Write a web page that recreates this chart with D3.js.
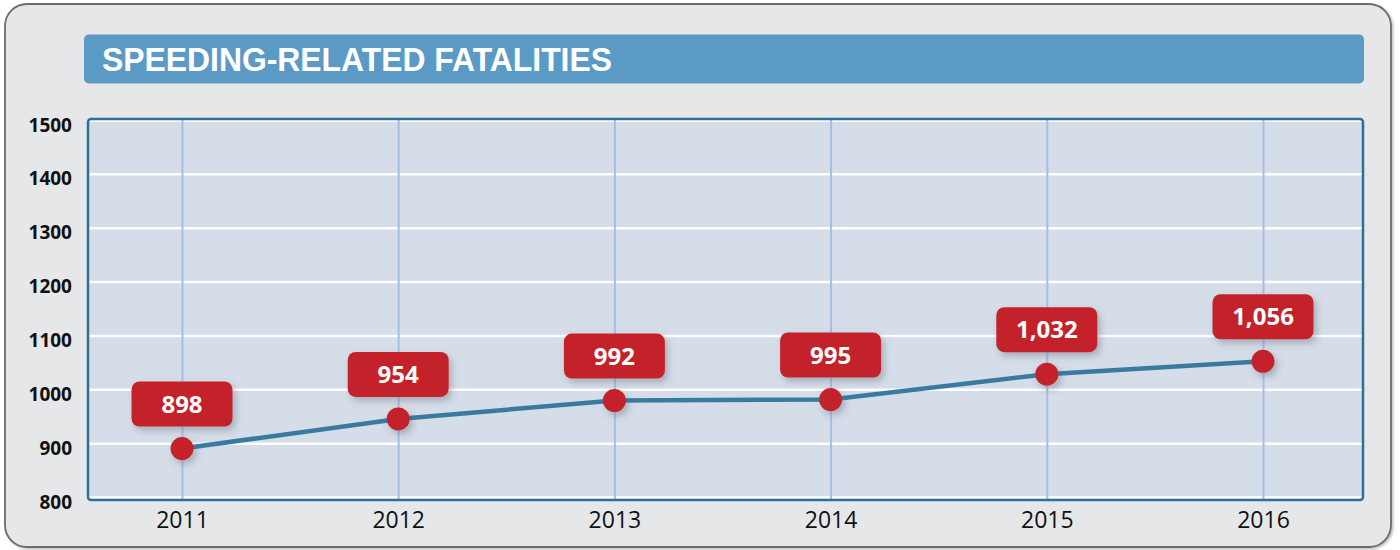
<!DOCTYPE html>
<html>
<head>
<meta charset="utf-8">
<script src="https://cdn.jsdelivr.net/npm/d3@7"></script>
<style>
  html, body { margin: 0; padding: 0; background: #ffffff; }
  svg { display: block; }
</style>
</head>
<body>
<svg id="chart" width="1400" height="550"></svg>
<script>
// ---- data ----
const title = "SPEEDING-RELATED FATALITIES";
const years = ["2011", "2012", "2013", "2014", "2015", "2016"];
const plottedValues = [890, 945, 979, 981, 1028, 1052];
const labelValues = [898, 954, 992, 995, 1032, 1056];
const yTicks = [800, 900, 1000, 1100, 1200, 1300, 1400, 1500];

// ---- layout ----
const plot = { left: 88, right: 1363, top: 120, bottom: 497 };

const svg = d3.select("#chart");
const defs = svg.append("defs");

const shadow = defs.append("filter").attr("id", "shadow")
  .attr("x", "-30%").attr("y", "-30%").attr("width", "170%").attr("height", "170%");
shadow.append("feDropShadow").attr("dx", 3).attr("dy", 4).attr("stdDeviation", 3.5)
  .attr("flood-color", "#4a5568").attr("flood-opacity", 0.35);

const panelShadow = defs.append("filter").attr("id", "panelShadow")
  .attr("x", "-5%").attr("y", "-5%").attr("width", "110%").attr("height", "110%");
panelShadow.append("feDropShadow").attr("dx", 1.5).attr("dy", 1.5).attr("stdDeviation", 1)
  .attr("flood-color", "#000").attr("flood-opacity", 0.25);

// outer panel
svg.append("rect")
  .attr("x", 5).attr("y", 4).attr("width", 1386).attr("height", 543)
  .attr("rx", 22).attr("ry", 22)
  .attr("fill", "#e6e7e9").attr("stroke", "#6b6c6e").attr("stroke-width", 1.8)
  .attr("filter", "url(#panelShadow)");

// title bar
svg.append("rect")
  .attr("x", 84).attr("y", 34.5).attr("width", 1280).attr("height", 49)
  .attr("rx", 5).attr("ry", 5)
  .attr("fill", "#5b9ac5");
svg.append("text")
  .attr("x", 102).attr("y", 71)
  .attr("font-family", "'Liberation Sans', Arial, sans-serif")
  .attr("font-weight", "bold")
  .attr("font-size", 33)
  .attr("fill", "#ffffff")
  .attr("textLength", 510)
  .attr("lengthAdjust", "spacingAndGlyphs")
  .text(title);

// scales
const x = d3.scalePoint().domain(years).range([182, 1263]);
const y = d3.scaleLinear().domain([800, 1500]).range([plot.bottom, plot.top]);

// plot background
svg.append("rect")
  .attr("x", plot.left).attr("y", plot.top - 1)
  .attr("width", plot.right - plot.left).attr("height", plot.bottom - plot.top + 4)
  .attr("rx", 3).attr("ry", 3)
  .attr("fill", "#d5dde8");

// horizontal gridlines (white)
const yGrid = svg.append("g")
  .attr("transform", `translate(${plot.left},0)`)
  .call(d3.axisLeft(y).tickValues(yTicks).tickSize(-(plot.right - plot.left)).tickFormat(""));
yGrid.select(".domain").remove();
yGrid.selectAll(".tick line").attr("stroke", "#ffffff").attr("stroke-width", 2.5);

// vertical gridlines (light blue)
const xGrid = svg.append("g")
  .attr("transform", `translate(0,${plot.bottom + 2})`)
  .call(d3.axisBottom(x).tickSize(-(plot.bottom + 2 - plot.top + 1)).tickFormat(""));
xGrid.select(".domain").remove();
xGrid.selectAll(".tick line").attr("stroke", "#a6bee8").attr("stroke-width", 2);

// plot border
svg.append("rect")
  .attr("x", plot.left).attr("y", plot.top - 1)
  .attr("width", plot.right - plot.left).attr("height", plot.bottom - plot.top + 4)
  .attr("rx", 3).attr("ry", 3)
  .attr("fill", "none").attr("stroke", "#2f6f98").attr("stroke-width", 2.5);

// y axis labels
const yAxis = svg.append("g")
  .attr("transform", `translate(${plot.left - 16},5)`)
  .call(d3.axisLeft(y).tickValues(yTicks).tickSize(0).tickPadding(0).tickFormat(d3.format("d")));
yAxis.select(".domain").remove();
yAxis.selectAll("text")
  .attr("font-family", "'Open Sans', sans-serif")
  .attr("font-weight", "bold")
  .attr("font-size", 19)
  .attr("fill", "#111111");

// x axis labels
const xAxis = svg.append("g")
  .attr("transform", `translate(0,${plot.bottom + 15})`)
  .call(d3.axisBottom(x).tickSize(0).tickPadding(0));
xAxis.select(".domain").remove();
xAxis.selectAll("text")
  .attr("font-family", "'Open Sans', sans-serif")
  .attr("font-size", 23)
  .attr("fill", "#111111");

// data
const data = years.map((yr, i) => ({ year: yr, v: plottedValues[i], label: labelValues[i] }));

// line
svg.append("path")
  .datum(data)
  .attr("fill", "none")
  .attr("stroke", "#3b7aa0")
  .attr("stroke-width", 4.5)
  .attr("stroke-linejoin", "round")
  .attr("d", d3.line().x(d => x(d.year)).y(d => y(d.v)));

// points
svg.append("g").selectAll("circle")
  .data(data).join("circle")
  .attr("cx", d => x(d.year))
  .attr("cy", d => y(d.v))
  .attr("r", 11.5)
  .attr("fill", "#c42329")
  .attr("filter", "url(#shadow)");

// value callouts
const fmt = d3.format(",");
const boxW = 101, boxH = 45, boxGap = 67;
const callouts = svg.append("g").selectAll("g")
  .data(data).join("g")
  .attr("transform", d => `translate(${x(d.year)},${y(d.v) - boxGap})`);
callouts.append("rect")
  .attr("x", -boxW / 2).attr("y", 0)
  .attr("width", boxW).attr("height", boxH)
  .attr("rx", 8).attr("ry", 8)
  .attr("fill", "#c42329")
  .attr("filter", "url(#shadow)");
callouts.append("text")
  .attr("x", 0).attr("y", boxH / 2 + 8.5)
  .attr("text-anchor", "middle")
  .attr("font-family", "'Open Sans', sans-serif")
  .attr("font-weight", "bold")
  .attr("font-size", 24)
  .attr("fill", "#ffffff")
  .text(d => fmt(d.label));
</script>
</body>
</html>
